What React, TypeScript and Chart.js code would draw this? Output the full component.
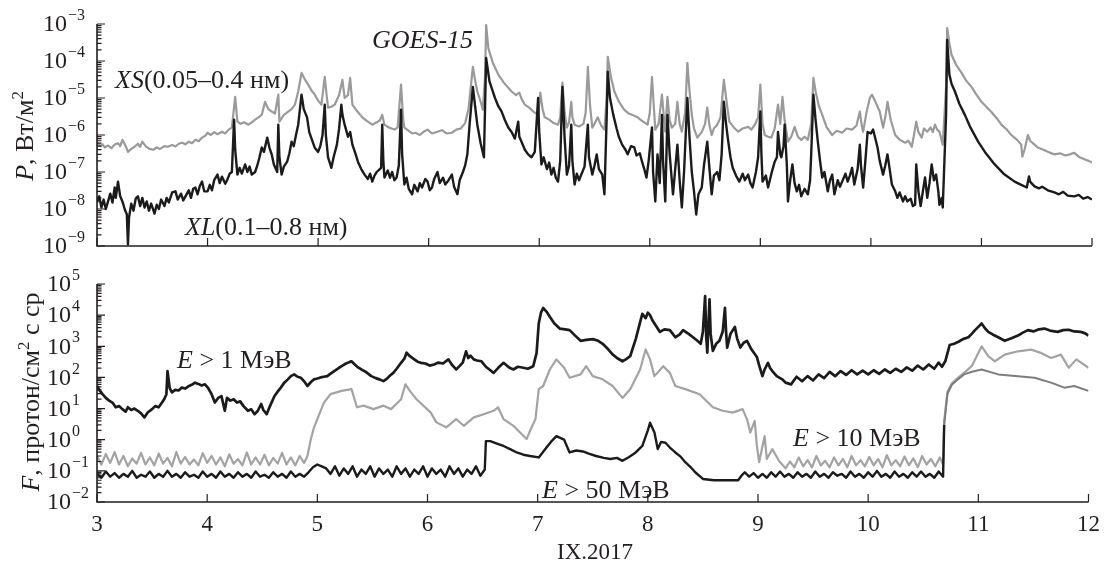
import React, { useEffect, useRef } from "react";
import { Chart, registerables } from "chart.js";

Chart.register(...registerables);

const SERIF = '"Liberation Serif", "Times New Roman", serif';
const INK = "#231f20";

// ---------- axis ticks ----------
const dayTicks = [3, 4, 5, 6, 7, 8, 9, 10, 11, 12];
const xrayExponents = [-9, -8, -7, -6, -5, -4, -3];
const protonExponents = [-2, -1, 0, 1, 2, 3, 4, 5];

// ---------- GOES-15 X-ray XS (0.05–0.4 nm): [day of Sept 2017, W/m^2] ----------
const xsSeries = [
  [3.00, 6.2e-7], [3.03, 5.0e-7], [3.05, 5.6e-7], [3.07, 4.6e-7], [3.10, 5.2e-7], [3.13, 4.4e-7],
  [3.16, 5.5e-7], [3.19, 6.0e-7], [3.21, 5.0e-7], [3.23, 7.4e-7], [3.26, 5.0e-7], [3.28, 3.5e-7],
  [3.31, 4.2e-7], [3.34, 4.8e-7], [3.37, 5.8e-7], [3.39, 4.8e-7], [3.41, 6.6e-7], [3.44, 5.0e-7],
  [3.47, 4.3e-7], [3.51, 4.0e-7], [3.54, 4.6e-7], [3.57, 4.2e-7], [3.61, 5.0e-7], [3.64, 4.8e-7],
  [3.68, 5.4e-7], [3.71, 4.9e-7], [3.74, 5.8e-7], [3.77, 6.2e-7], [3.80, 5.6e-7], [3.83, 6.6e-7],
  [3.86, 6.0e-7], [3.89, 7.4e-7], [3.92, 6.8e-7], [3.95, 8.5e-7], [3.98, 9.5e-7], [4.00, 1.15e-6],
  [4.03, 1.0e-6], [4.06, 1.2e-6], [4.09, 1.05e-6], [4.13, 1.23e-6], [4.16, 1.1e-6], [4.19, 1.4e-6],
  [4.22, 1.58e-6], [4.25, 1.07e-5], [4.27, 2.3e-6], [4.30, 2.0e-6], [4.33, 2.2e-6], [4.37, 1.9e-6],
  [4.40, 2.2e-6], [4.43, 2.6e-6], [4.46, 3.0e-6], [4.49, 3.5e-6], [4.52, 7.9e-6], [4.55, 5.0e-6],
  [4.58, 4.3e-6], [4.61, 3.8e-6], [4.64, 1.23e-5], [4.65, 2.3e-6], [4.69, 3.5e-6], [4.73, 4.3e-6],
  [4.76, 5.0e-6], [4.79, 6.6e-6], [4.82, 1.5e-5], [4.85, 4.8e-5], [4.88, 3.2e-5], [4.91, 2.3e-5],
  [4.94, 1.6e-5], [4.97, 1.23e-5], [5.00, 8.5e-6], [5.03, 6.6e-6], [5.06, 3.7e-5], [5.08, 1.0e-5],
  [5.09, 5.5e-6], [5.12, 5.8e-6], [5.15, 6.6e-6], [5.19, 1.2e-5], [5.22, 3.1e-5], [5.24, 1.0e-5],
  [5.27, 1.2e-5], [5.29, 3.5e-5], [5.31, 6.6e-6], [5.35, 4.5e-6], [5.40, 3.0e-6], [5.44, 2.4e-6],
  [5.49, 1.9e-6], [5.53, 2.2e-6], [5.56, 2.5e-6], [5.58, 3.5e-6], [5.60, 1.9e-6], [5.64, 1.6e-6],
  [5.69, 1.4e-6], [5.72, 1.6e-6], [5.75, 2.3e-5], [5.77, 2.5e-6], [5.78, 1.58e-6], [5.82, 1.3e-6],
  [5.85, 1.1e-6], [5.88, 1.15e-6], [5.92, 1.0e-6], [5.95, 1.2e-6], [5.99, 1.4e-6], [6.03, 1.1e-6],
  [6.08, 1.23e-6], [6.12, 1.35e-6], [6.16, 1.1e-6], [6.21, 1.15e-6], [6.25, 1.4e-6], [6.29, 1.5e-6],
  [6.33, 2.1e-6], [6.36, 5.0e-6], [6.40, 6.9e-5], [6.42, 3.0e-5], [6.44, 1.5e-5], [6.47, 8.0e-6],
  [6.49, 4.8e-6], [6.51, 4.0e-5], [6.52, 9.3e-4], [6.54, 2.2e-4], [6.58, 9.0e-5], [6.63, 4.3e-5],
  [6.68, 2.6e-5], [6.72, 1.9e-5], [6.75, 1.5e-5], [6.79, 1.2e-5], [6.82, 1.4e-5], [6.84, 9.5e-6],
  [6.87, 6.6e-6], [6.91, 5.5e-6], [6.95, 4.2e-6], [6.99, 3.5e-6], [7.01, 1.4e-5], [7.03, 5.0e-6],
  [7.05, 3.0e-6], [7.09, 2.6e-6], [7.13, 2.1e-6], [7.17, 1.9e-6], [7.19, 3.0e-6], [7.21, 2.6e-5],
  [7.23, 4.0e-6], [7.25, 1.58e-6], [7.27, 2.2e-6], [7.29, 7.9e-6], [7.30, 3.0e-6], [7.32, 1.9e-6],
  [7.36, 1.7e-6], [7.40, 2.0e-6], [7.42, 4.0e-6], [7.44, 6.9e-5], [7.46, 6.0e-6], [7.48, 1.58e-6],
  [7.50, 2.0e-6], [7.53, 3.0e-6], [7.56, 1.8e-6], [7.59, 1.4e-6], [7.61, 1.0e-5], [7.62, 1.3e-4],
  [7.65, 3.5e-5], [7.68, 1.5e-5], [7.72, 8.0e-6], [7.77, 4.8e-6], [7.81, 3.8e-6], [7.85, 3.4e-6],
  [7.89, 3.0e-6], [7.93, 2.4e-6], [7.98, 1.9e-6], [8.00, 4.0e-6], [8.02, 3.7e-5], [8.04, 4.0e-6],
  [8.05, 1.4e-6], [8.08, 2.0e-6], [8.11, 1.23e-5], [8.13, 2.5e-6], [8.14, 1.23e-6], [8.16, 1.07e-5],
  [8.18, 2.5e-6], [8.20, 1.58e-6], [8.23, 2.0e-6], [8.25, 7.9e-6], [8.27, 2.0e-6], [8.29, 1.23e-6],
  [8.32, 4.0e-6], [8.34, 8.9e-5], [8.36, 1.5e-5], [8.38, 3.5e-6], [8.40, 1.5e-6], [8.43, 8.5e-7],
  [8.47, 1.2e-6], [8.50, 2.0e-6], [8.52, 5.5e-6], [8.54, 1.8e-6], [8.56, 1.0e-6], [8.58, 1.5e-6],
  [8.61, 1.9e-6], [8.64, 3.0e-6], [8.67, 3.1e-5], [8.70, 6.0e-6], [8.72, 2.3e-6], [8.76, 1.6e-6],
  [8.80, 1.23e-6], [8.84, 1.5e-6], [8.89, 1.66e-6], [8.92, 1.4e-6], [8.95, 1.9e-6], [8.98, 3.0e-6],
  [9.00, 2.3e-5], [9.02, 2.0e-6], [9.04, 1.0e-6], [9.07, 9.0e-7], [9.10, 8.5e-7], [9.13, 1.5e-6],
  [9.16, 6.6e-6], [9.18, 2.0e-6], [9.20, 1.07e-5], [9.22, 2.5e-6], [9.25, 6.6e-7], [9.28, 9.0e-7],
  [9.31, 1.66e-6], [9.34, 9.0e-7], [9.37, 7.4e-7], [9.40, 9.0e-7], [9.43, 7.4e-7], [9.46, 2.0e-6],
  [9.48, 3.5e-5], [9.50, 1.5e-5], [9.53, 6.0e-6], [9.56, 3.5e-6], [9.60, 1.6e-6], [9.65, 1.0e-6],
  [9.69, 1.3e-6], [9.74, 1.15e-6], [9.78, 1.5e-6], [9.83, 1.4e-6], [9.87, 1.8e-6], [9.90, 4.3e-6],
  [9.92, 1.6e-6], [9.93, 1.23e-6], [9.96, 4.0e-6], [9.99, 1.0e-5], [10.01, 1.23e-5], [10.04, 8.0e-6],
  [10.08, 4.3e-6], [10.11, 1.58e-6], [10.13, 3.0e-6], [10.15, 7.9e-6], [10.18, 2.5e-6], [10.22, 1.0e-6],
  [10.26, 7.5e-7], [10.31, 6.2e-7], [10.34, 7.0e-7], [10.37, 4.8e-7], [10.39, 1.0e-6], [10.41, 2.3e-6],
  [10.43, 1.2e-6], [10.46, 8.5e-7], [10.48, 1.5e-6], [10.51, 1.23e-6], [10.54, 1.6e-6], [10.56, 1.2e-6],
  [10.58, 1.9e-6], [10.60, 1.4e-6], [10.62, 1.23e-6], [10.65, 5.5e-7], [10.68, 2.0e-5], [10.69, 7.8e-4],
  [10.71, 3.0e-4], [10.73, 1.45e-4], [10.77, 8.0e-5], [10.82, 4.8e-5], [10.86, 3.0e-5], [10.91, 2.0e-5],
  [10.95, 1.3e-5], [11.00, 7.9e-6], [11.05, 5.5e-6], [11.09, 4.2e-6], [11.14, 2.8e-6], [11.18, 1.9e-6],
  [11.23, 1.4e-6], [11.27, 1.0e-6], [11.32, 7.5e-7], [11.36, 5.5e-7], [11.37, 2.6e-7], [11.39, 4.0e-7],
  [11.42, 1.0e-6], [11.44, 7.0e-7], [11.48, 5.5e-7], [11.51, 4.6e-7], [11.56, 4.0e-7], [11.61, 3.4e-7],
  [11.66, 3.0e-7], [11.71, 3.2e-7], [11.76, 2.8e-7], [11.80, 3.0e-7], [11.84, 3.3e-7], [11.88, 2.6e-7],
  [11.93, 2.2e-7], [11.97, 2.0e-7], [12.00, 1.8e-7],
];

// ---------- GOES-15 X-ray XL (0.1–0.8 nm): [day, W/m^2] ----------
const xlSeries = [
  [3.00, 1.5e-8], [3.02, 2.2e-8], [3.04, 1.1e-8], [3.06, 1.8e-8], [3.08, 1.0e-8], [3.10, 1.6e-8],
  [3.12, 2.6e-8], [3.14, 1.5e-8], [3.16, 3.8e-8], [3.17, 2.0e-8], [3.19, 5.5e-8], [3.21, 2.2e-8],
  [3.23, 1.6e-8], [3.25, 1.0e-8], [3.27, 7.1e-9], [3.28, 1.1e-9], [3.29, 6.0e-9], [3.31, 1.4e-8],
  [3.33, 9.0e-9], [3.35, 1.9e-8], [3.37, 2.2e-8], [3.39, 1.2e-8], [3.41, 2.0e-8], [3.43, 1.1e-8],
  [3.45, 1.6e-8], [3.47, 9.0e-9], [3.49, 1.4e-8], [3.52, 7.5e-9], [3.54, 1.3e-8], [3.56, 1.0e-8],
  [3.58, 1.8e-8], [3.61, 1.2e-8], [3.63, 2.0e-8], [3.65, 1.5e-8], [3.68, 2.8e-8], [3.71, 3.0e-8],
  [3.73, 1.8e-8], [3.76, 2.6e-8], [3.78, 1.7e-8], [3.80, 2.2e-8], [3.83, 3.2e-8], [3.85, 2.0e-8],
  [3.87, 3.5e-8], [3.89, 3.8e-8], [3.91, 2.5e-8], [3.93, 4.2e-8], [3.95, 5.5e-8], [3.97, 3.0e-8],
  [4.00, 3.0e-8], [4.02, 4.5e-8], [4.04, 3.2e-8], [4.06, 6.0e-8], [4.09, 8.5e-8], [4.11, 5.0e-8],
  [4.13, 7.5e-8], [4.16, 4.8e-8], [4.18, 6.3e-8], [4.20, 9.0e-8], [4.22, 1.0e-7], [4.24, 2.6e-6],
  [4.25, 4.0e-7], [4.27, 8.5e-8], [4.29, 1.3e-7], [4.31, 9.0e-8], [4.34, 1.6e-7], [4.36, 1.0e-7],
  [4.38, 1.4e-7], [4.40, 8.5e-8], [4.43, 1.0e-7], [4.45, 1.5e-7], [4.47, 2.5e-7], [4.49, 4.6e-7],
  [4.51, 3.5e-7], [4.54, 8.5e-7], [4.56, 4.5e-7], [4.58, 3.0e-7], [4.60, 1.6e-7], [4.63, 1.0e-7],
  [4.64, 1.9e-6], [4.65, 2.5e-7], [4.67, 8.5e-8], [4.69, 1.4e-7], [4.72, 1.9e-7], [4.74, 3.2e-7],
  [4.76, 6.6e-7], [4.78, 5.0e-7], [4.80, 1.0e-6], [4.82, 1.9e-6], [4.85, 1.23e-5], [4.87, 5.0e-6],
  [4.90, 3.0e-6], [4.92, 1.2e-6], [4.95, 6.6e-7], [4.97, 4.5e-7], [5.00, 3.5e-7], [5.02, 5.0e-7],
  [5.04, 1.0e-6], [5.06, 6.6e-6], [5.07, 1.0e-6], [5.09, 2.5e-7], [5.12, 1.3e-7], [5.14, 2.5e-7],
  [5.17, 5.5e-7], [5.19, 1.5e-6], [5.21, 6.6e-6], [5.22, 3.5e-6], [5.24, 1.9e-6], [5.27, 9.0e-7],
  [5.29, 1.2e-6], [5.31, 5.5e-7], [5.34, 3.0e-7], [5.36, 1.9e-7], [5.39, 1.2e-7], [5.42, 8.5e-8],
  [5.45, 6.5e-8], [5.47, 9.0e-8], [5.49, 5.5e-8], [5.51, 8.0e-8], [5.53, 1.0e-7], [5.57, 1.3e-7],
  [5.58, 1.9e-6], [5.59, 2.0e-7], [5.60, 7.1e-8], [5.63, 1.1e-7], [5.65, 7.0e-8], [5.67, 1.0e-7],
  [5.69, 6.0e-8], [5.71, 7.1e-8], [5.73, 1.5e-7], [5.75, 4.8e-6], [5.76, 3.0e-7], [5.78, 4.6e-8],
  [5.80, 7.0e-8], [5.82, 3.5e-8], [5.85, 2.5e-8], [5.87, 4.5e-8], [5.90, 3.0e-8], [5.92, 5.0e-8],
  [5.94, 3.8e-8], [5.97, 6.5e-8], [5.99, 5.5e-8], [6.01, 3.2e-8], [6.03, 3.8e-8], [6.05, 6.5e-8],
  [6.08, 1.0e-7], [6.10, 5.0e-8], [6.13, 7.0e-8], [6.15, 4.6e-8], [6.18, 6.0e-8], [6.21, 8.5e-8],
  [6.23, 4.0e-8], [6.26, 2.5e-8], [6.28, 6.0e-8], [6.31, 1.0e-7], [6.33, 1.5e-7], [6.35, 3.0e-7],
  [6.37, 1.9e-6], [6.40, 2.0e-5], [6.42, 6.0e-6], [6.44, 1.9e-6], [6.47, 6.0e-7], [6.50, 2.5e-7],
  [6.52, 1.2e-4], [6.55, 2.8e-5], [6.58, 1.5e-5], [6.60, 1.0e-5], [6.63, 6.0e-6], [6.66, 4.3e-6],
  [6.69, 2.5e-6], [6.72, 1.6e-6], [6.75, 1.2e-6], [6.78, 8.0e-7], [6.81, 2.3e-6], [6.82, 9.0e-7],
  [6.84, 6.6e-7], [6.87, 4.0e-7], [6.90, 3.0e-7], [6.93, 2.5e-7], [6.96, 3.5e-7], [6.99, 1.0e-5],
  [7.00, 1.2e-6], [7.02, 1.6e-7], [7.04, 2.5e-7], [7.07, 1.2e-7], [7.09, 1.8e-7], [7.11, 8.5e-8],
  [7.13, 1.3e-7], [7.15, 7.0e-8], [7.17, 5.5e-8], [7.19, 2.0e-7], [7.21, 2.0e-5], [7.23, 8.0e-7],
  [7.25, 8.5e-8], [7.27, 1.5e-7], [7.29, 1.9e-6], [7.30, 2.0e-7], [7.32, 4.6e-8], [7.34, 9.0e-8],
  [7.36, 6.0e-8], [7.39, 1.0e-7], [7.41, 1.4e-7], [7.44, 1.9e-6], [7.45, 2.5e-7], [7.48, 8.5e-8],
  [7.50, 1.5e-7], [7.52, 3.0e-7], [7.54, 1.2e-7], [7.57, 8.5e-8], [7.59, 2.5e-8], [7.61, 3.0e-6],
  [7.62, 5.1e-5], [7.64, 1.0e-5], [7.67, 3.5e-6], [7.70, 1.5e-6], [7.72, 9.0e-7], [7.75, 5.5e-7],
  [7.78, 4.0e-7], [7.80, 3.0e-7], [7.83, 5.0e-7], [7.86, 4.6e-7], [7.88, 2.8e-7], [7.91, 3.2e-7],
  [7.93, 1.9e-7], [7.95, 1.2e-7], [7.97, 7.1e-8], [7.99, 2.0e-7], [8.02, 1.6e-6], [8.03, 1.0e-7],
  [8.05, 1.6e-8], [8.07, 3.0e-7], [8.09, 5.0e-8], [8.11, 3.5e-6], [8.12, 2.0e-7], [8.14, 1.6e-8],
  [8.16, 3.5e-6], [8.18, 3.0e-7], [8.21, 2.5e-8], [8.23, 1.2e-7], [8.25, 5.5e-7], [8.27, 6.0e-8],
  [8.29, 1.1e-8], [8.31, 1.0e-7], [8.34, 1.0e-5], [8.36, 8.0e-7], [8.38, 1.0e-7], [8.40, 3.0e-8],
  [8.42, 7.1e-9], [8.44, 2.5e-8], [8.47, 3.8e-8], [8.49, 1.5e-7], [8.52, 6.6e-7], [8.54, 1.2e-7],
  [8.56, 2.5e-8], [8.58, 8.0e-8], [8.61, 1.0e-7], [8.63, 6.0e-8], [8.65, 3.0e-7], [8.67, 7.9e-6],
  [8.69, 2.0e-6], [8.71, 6.6e-7], [8.73, 2.5e-7], [8.75, 1.3e-7], [8.78, 8.0e-8], [8.81, 5.5e-8],
  [8.84, 9.0e-8], [8.86, 6.0e-8], [8.89, 8.5e-8], [8.91, 5.0e-8], [8.93, 3.8e-8], [8.96, 1.0e-7],
  [8.98, 2.5e-7], [9.00, 4.3e-6], [9.01, 3.0e-7], [9.02, 5.5e-8], [9.05, 8.0e-8], [9.07, 3.8e-8],
  [9.10, 9.0e-8], [9.13, 1.9e-7], [9.15, 2.5e-7], [9.16, 1.2e-6], [9.18, 3.0e-7], [9.19, 2.5e-7],
  [9.21, 5.0e-7], [9.22, 1.9e-6], [9.24, 1.5e-7], [9.25, 1.6e-8], [9.27, 6.0e-8], [9.29, 1.6e-7],
  [9.31, 5.0e-8], [9.33, 3.0e-8], [9.35, 4.5e-8], [9.37, 2.2e-8], [9.40, 3.5e-8], [9.43, 2.5e-8],
  [9.45, 6.0e-8], [9.46, 3.0e-7], [9.48, 1.23e-5], [9.50, 2.5e-6], [9.52, 6.6e-7], [9.54, 2.0e-7],
  [9.56, 7.1e-8], [9.58, 1.0e-7], [9.61, 3.0e-8], [9.63, 6.0e-8], [9.65, 8.5e-8], [9.67, 2.5e-8],
  [9.70, 6.0e-8], [9.72, 4.0e-8], [9.74, 5.5e-8], [9.77, 9.0e-8], [9.79, 5.5e-8], [9.81, 8.0e-8],
  [9.83, 1.3e-7], [9.85, 4.6e-8], [9.88, 1.2e-7], [9.90, 5.5e-7], [9.91, 1.5e-7], [9.93, 3.8e-8],
  [9.95, 2.0e-7], [9.97, 1.2e-6], [10.00, 1.1e-6], [10.02, 1.4e-6], [10.04, 8.0e-7], [10.06, 4.6e-7],
  [10.08, 2.0e-7], [10.11, 8.5e-8], [10.13, 1.5e-7], [10.15, 3.0e-7], [10.17, 1.2e-7], [10.19, 4.6e-8],
  [10.22, 3.0e-8], [10.24, 2.0e-8], [10.26, 2.8e-8], [10.29, 1.6e-8], [10.31, 2.2e-8], [10.33, 1.6e-8],
  [10.36, 1.9e-8], [10.38, 1.2e-8], [10.40, 1.3e-8], [10.41, 1.6e-7], [10.43, 3.0e-8], [10.45, 1.2e-8],
  [10.47, 3.0e-8], [10.49, 7.1e-8], [10.51, 2.0e-8], [10.53, 5.0e-8], [10.55, 1.6e-7], [10.57, 6.0e-8],
  [10.59, 8.5e-8], [10.61, 3.0e-8], [10.62, 1.3e-8], [10.64, 2.0e-8], [10.65, 1.1e-8], [10.68, 3.5e-6],
  [10.69, 3.7e-4], [10.71, 4.3e-5], [10.73, 2.4e-5], [10.76, 1.5e-5], [10.80, 7.0e-6], [10.85, 3.5e-6],
  [10.90, 1.6e-6], [10.97, 6.6e-7], [11.04, 3.2e-7], [11.12, 1.6e-7], [11.20, 9.0e-8], [11.30, 5.5e-8],
  [11.36, 4.5e-8], [11.41, 3.8e-8], [11.43, 7.6e-8], [11.44, 5.5e-8], [11.48, 4.1e-8], [11.52, 3.6e-8],
  [11.55, 4.0e-8], [11.60, 3.2e-8], [11.66, 2.8e-8], [11.70, 2.5e-8], [11.74, 2.9e-8], [11.78, 2.3e-8],
  [11.84, 2.2e-8], [11.88, 2.4e-8], [11.92, 1.9e-8], [11.96, 2.1e-8], [12.00, 1.8e-8],
];

// ---------- protons E > 1 MeV: [day, protons/(cm^2 s sr)] ----------
const p1Series = [
  [3.00, 53], [3.02, 40], [3.05, 29], [3.08, 22], [3.11, 18], [3.14, 15.6], [3.17, 11], [3.20, 12],
  [3.23, 9.6], [3.26, 8.0], [3.28, 11], [3.31, 9.0], [3.34, 10], [3.37, 8.5], [3.40, 7.0], [3.43, 5.2],
  [3.46, 7.5], [3.50, 9.6], [3.53, 12], [3.56, 11], [3.59, 15.6], [3.61, 20], [3.63, 29], [3.64, 160],
  [3.66, 45], [3.68, 33], [3.71, 40], [3.74, 38], [3.77, 47], [3.80, 44], [3.83, 52], [3.86, 58],
  [3.89, 68], [3.92, 62], [3.95, 55], [3.98, 60], [4.01, 45], [4.04, 29], [4.07, 15.6], [4.10, 22],
  [4.13, 25], [4.16, 8.5], [4.18, 22], [4.21, 18], [4.24, 20], [4.27, 15.6], [4.30, 17], [4.33, 12],
  [4.37, 8.5], [4.40, 9.5], [4.43, 6.6], [4.46, 8.5], [4.49, 14], [4.51, 9.0], [4.54, 6.6], [4.57, 12],
  [4.61, 25], [4.64, 35], [4.67, 48], [4.70, 68], [4.73, 85], [4.76, 110], [4.79, 125], [4.82, 105],
  [4.85, 98], [4.88, 75], [4.91, 53], [4.94, 70], [4.97, 87], [5.00, 92], [5.03, 100], [5.06, 105],
  [5.09, 110], [5.13, 140], [5.17, 175], [5.22, 230], [5.26, 280], [5.29, 310], [5.31, 330], [5.34, 260],
  [5.37, 210], [5.40, 180], [5.44, 150], [5.49, 110], [5.53, 95], [5.57, 85], [5.60, 76], [5.63, 90],
  [5.66, 115], [5.69, 140], [5.72, 190], [5.76, 295], [5.79, 400], [5.81, 620], [5.84, 480], [5.88, 380],
  [5.91, 320], [5.94, 295], [5.98, 280], [6.02, 240], [6.06, 260], [6.10, 300], [6.14, 280], [6.19, 380],
  [6.22, 260], [6.26, 180], [6.29, 230], [6.32, 300], [6.35, 690], [6.37, 420], [6.39, 500], [6.42, 380],
  [6.45, 350], [6.49, 330], [6.53, 220], [6.57, 170], [6.60, 140], [6.64, 200], [6.69, 295], [6.72, 240],
  [6.75, 200], [6.78, 180], [6.82, 220], [6.87, 205], [6.91, 190], [6.96, 230], [6.99, 600], [7.01, 5500],
  [7.03, 12000], [7.05, 17000], [7.08, 13000], [7.11, 8900], [7.15, 5500], [7.20, 3700], [7.25, 3500], [7.29, 3300],
  [7.34, 2200], [7.39, 1500], [7.44, 1600], [7.50, 1700], [7.55, 1500], [7.59, 1200], [7.64, 800], [7.68, 550],
  [7.72, 420], [7.77, 330], [7.80, 380], [7.84, 480], [7.89, 1700], [7.93, 6000], [7.95, 11000], [7.98, 8000],
  [8.00, 12000], [8.02, 10000], [8.04, 7000], [8.06, 5400], [8.11, 2900], [8.15, 3500], [8.20, 3300], [8.25, 1950],
  [8.29, 2400], [8.32, 3300], [8.37, 2500], [8.41, 1950], [8.45, 1500], [8.48, 1200], [8.50, 3000], [8.52, 41000],
  [8.53, 2000], [8.54, 630], [8.55, 5000], [8.56, 32000], [8.57, 2500], [8.59, 710], [8.62, 1200], [8.65, 1500],
  [8.68, 3000], [8.70, 17000], [8.71, 3000], [8.72, 910], [8.75, 2500], [8.79, 4200], [8.81, 1800], [8.84, 910],
  [8.87, 1300], [8.90, 1500], [8.94, 800], [8.99, 450], [9.01, 250], [9.04, 110], [9.06, 180], [9.09, 295],
  [9.11, 200], [9.13, 160], [9.17, 110], [9.22, 87], [9.25, 68], [9.30, 60], [9.35, 105], [9.40, 75],
  [9.45, 110], [9.50, 80], [9.55, 125], [9.60, 95], [9.65, 150], [9.70, 110], [9.75, 160], [9.80, 120],
  [9.85, 170], [9.90, 125], [9.95, 165], [10.00, 125], [10.05, 170], [10.10, 130], [10.15, 180], [10.20, 140],
  [10.25, 190], [10.30, 150], [10.35, 210], [10.40, 165], [10.45, 240], [10.50, 180], [10.55, 260], [10.60, 190],
  [10.64, 300], [10.67, 220], [10.70, 330], [10.72, 600], [10.74, 1100], [10.78, 1200], [10.82, 1400], [10.86, 1700],
  [10.91, 1950], [10.94, 2500], [10.97, 3300], [11.00, 4200], [11.03, 5400], [11.06, 3800], [11.09, 2900], [11.13, 2400],
  [11.18, 1950], [11.24, 1500], [11.30, 1800], [11.36, 2200], [11.40, 2700], [11.45, 3300], [11.50, 3000], [11.55, 3500],
  [11.60, 3700], [11.65, 3200], [11.72, 2900], [11.77, 3300], [11.82, 3400], [11.87, 3000], [11.93, 2900], [11.97, 2600],
  [12.00, 2200],
];

// ---------- protons E > 10 MeV: [day, flux] ----------
const p10Series = [
  [3.00, 0.3], [3.04, 0.16], [3.08, 0.35], [3.12, 0.18], [3.16, 0.4], [3.20, 0.16], [3.24, 0.3], [3.28, 0.14],
  [3.32, 0.25], [3.36, 0.17], [3.40, 0.38], [3.44, 0.16], [3.48, 0.27], [3.52, 0.15], [3.56, 0.36], [3.60, 0.17],
  [3.64, 0.26], [3.68, 0.14], [3.72, 0.4], [3.76, 0.17], [3.80, 0.28], [3.84, 0.16], [3.88, 0.23], [3.92, 0.15],
  [3.96, 0.37], [4.00, 0.18], [4.04, 0.3], [4.08, 0.16], [4.12, 0.27], [4.16, 0.14], [4.20, 0.34], [4.24, 0.17],
  [4.28, 0.24], [4.32, 0.15], [4.36, 0.39], [4.40, 0.16], [4.44, 0.27], [4.48, 0.16], [4.52, 0.33], [4.56, 0.15],
  [4.60, 0.26], [4.64, 0.17], [4.68, 0.38], [4.72, 0.16], [4.76, 0.27], [4.80, 0.15], [4.84, 0.3], [4.88, 0.18],
  [4.91, 0.3], [4.94, 1.0], [4.97, 2.5], [5.00, 4.6], [5.06, 15.6], [5.12, 29], [5.22, 37], [5.31, 42],
  [5.36, 11], [5.42, 12.4], [5.51, 9.6], [5.60, 12.4], [5.67, 9.6], [5.76, 20], [5.80, 60], [5.85, 33],
  [5.90, 20], [6.03, 7.4], [6.08, 3.6], [6.17, 2.5], [6.26, 4.6], [6.33, 2.8], [6.42, 5.2], [6.51, 6.6],
  [6.60, 8.5], [6.64, 11], [6.69, 4.6], [6.78, 2.8], [6.84, 1.7], [6.90, 1.05], [6.93, 1.9], [6.98, 4.6],
  [7.01, 42], [7.05, 53], [7.11, 180], [7.17, 380], [7.24, 205], [7.29, 98], [7.39, 125], [7.44, 230],
  [7.50, 110], [7.59, 87], [7.68, 53], [7.77, 22], [7.84, 42], [7.93, 180], [7.98, 790], [8.02, 380],
  [8.06, 110], [8.14, 230], [8.20, 140], [8.25, 53], [8.34, 42], [8.47, 29], [8.59, 11], [8.68, 8.5],
  [8.77, 7.4], [8.86, 9.6], [8.90, 4.6], [8.93, 1.7], [8.97, 4.0], [8.99, 0.63], [9.01, 0.19], [9.06, 1.3],
  [9.08, 0.24], [9.13, 0.5], [9.19, 0.21], [9.25, 0.12], [9.29, 0.2], [9.33, 0.13], [9.37, 0.27], [9.41, 0.14],
  [9.45, 0.22], [9.49, 0.13], [9.53, 0.3], [9.57, 0.15], [9.61, 0.21], [9.65, 0.13], [9.69, 0.27], [9.73, 0.15],
  [9.77, 0.24], [9.81, 0.13], [9.85, 0.3], [9.89, 0.15], [9.93, 0.22], [9.97, 0.14], [10.01, 0.28], [10.05, 0.15],
  [10.09, 0.24], [10.13, 0.13], [10.17, 0.32], [10.21, 0.15], [10.25, 0.22], [10.29, 0.14], [10.33, 0.29], [10.37, 0.15],
  [10.41, 0.25], [10.45, 0.13], [10.49, 0.3], [10.53, 0.16], [10.57, 0.24], [10.61, 0.14], [10.65, 0.27], [10.68, 0.16],
  [10.69, 4.0], [10.72, 35], [10.76, 65], [10.82, 100], [10.87, 140], [10.94, 230], [11.03, 1000], [11.09, 480],
  [11.15, 330], [11.24, 540], [11.36, 690], [11.48, 780], [11.57, 610], [11.66, 420], [11.75, 540], [11.82, 205],
  [11.89, 380], [12.00, 205],
];

// ---------- protons E > 50 MeV: [day, flux] ----------
const p50Series = [
  [3.00, 0.08], [3.04, 0.06], [3.08, 0.095], [3.12, 0.065], [3.16, 0.085], [3.20, 0.06], [3.24, 0.08], [3.28, 0.065],
  [3.32, 0.1], [3.36, 0.06], [3.40, 0.075], [3.44, 0.065], [3.48, 0.095], [3.52, 0.06], [3.56, 0.08], [3.60, 0.065],
  [3.64, 0.1], [3.68, 0.065], [3.72, 0.08], [3.76, 0.06], [3.80, 0.09], [3.84, 0.065], [3.88, 0.075], [3.92, 0.06],
  [3.96, 0.095], [4.00, 0.065], [4.04, 0.08], [4.08, 0.06], [4.12, 0.095], [4.16, 0.065], [4.20, 0.08], [4.24, 0.06],
  [4.28, 0.09], [4.32, 0.065], [4.36, 0.08], [4.40, 0.06], [4.44, 0.095], [4.48, 0.065], [4.52, 0.075], [4.56, 0.06],
  [4.60, 0.09], [4.64, 0.065], [4.68, 0.08], [4.72, 0.06], [4.76, 0.095], [4.80, 0.065], [4.84, 0.08], [4.88, 0.065],
  [4.92, 0.09], [4.96, 0.13], [5.00, 0.16], [5.04, 0.14], [5.08, 0.12], [5.12, 0.08], [5.16, 0.14], [5.20, 0.07],
  [5.24, 0.12], [5.28, 0.08], [5.32, 0.14], [5.36, 0.065], [5.40, 0.11], [5.44, 0.08], [5.48, 0.14], [5.52, 0.065],
  [5.56, 0.12], [5.60, 0.08], [5.64, 0.11], [5.68, 0.065], [5.72, 0.14], [5.76, 0.08], [5.80, 0.12], [5.84, 0.065],
  [5.88, 0.11], [5.92, 0.08], [5.96, 0.14], [6.00, 0.065], [6.04, 0.12], [6.08, 0.08], [6.12, 0.11], [6.16, 0.065],
  [6.20, 0.14], [6.24, 0.08], [6.28, 0.12], [6.32, 0.065], [6.36, 0.11], [6.40, 0.08], [6.44, 0.14], [6.48, 0.07],
  [6.52, 0.11], [6.53, 0.9], [6.57, 0.9], [6.63, 0.75], [6.69, 0.63], [6.75, 0.5], [6.81, 0.39], [6.87, 0.33],
  [6.93, 0.3], [7.01, 0.27], [7.08, 0.56], [7.12, 0.85], [7.17, 1.3], [7.24, 1.0], [7.29, 0.39], [7.35, 0.45],
  [7.41, 0.42], [7.47, 0.35], [7.53, 0.3], [7.60, 0.26], [7.66, 0.24], [7.72, 0.26], [7.77, 0.21], [7.83, 0.28],
  [7.89, 0.39], [7.95, 0.63], [8.00, 2.0], [8.02, 3.5], [8.06, 1.7], [8.09, 0.5], [8.12, 0.85], [8.16, 0.8],
  [8.20, 0.56], [8.25, 0.39], [8.30, 0.28], [8.34, 0.19], [8.39, 0.13], [8.43, 0.09], [8.50, 0.055], [8.60, 0.05],
  [8.70, 0.05], [8.82, 0.05], [8.85, 0.07], [8.88, 0.09], [8.92, 0.065], [8.96, 0.085], [9.00, 0.06], [9.04, 0.08],
  [9.08, 0.06], [9.12, 0.09], [9.16, 0.065], [9.20, 0.095], [9.24, 0.065], [9.28, 0.08], [9.32, 0.06], [9.36, 0.09],
  [9.40, 0.065], [9.44, 0.08], [9.48, 0.06], [9.52, 0.095], [9.56, 0.065], [9.60, 0.08], [9.64, 0.06], [9.68, 0.09],
  [9.72, 0.07], [9.76, 0.08], [9.80, 0.06], [9.84, 0.095], [9.88, 0.065], [9.92, 0.08], [9.96, 0.06], [10.00, 0.09],
  [10.04, 0.065], [10.08, 0.1], [10.12, 0.065], [10.16, 0.08], [10.20, 0.06], [10.24, 0.095], [10.28, 0.065], [10.32, 0.08],
  [10.36, 0.06], [10.40, 0.09], [10.44, 0.065], [10.48, 0.095], [10.52, 0.065], [10.56, 0.08], [10.60, 0.06], [10.64, 0.095],
  [10.68, 0.065], [10.69, 3.0], [10.72, 30], [10.76, 58], [10.82, 90], [10.87, 125], [10.95, 155], [11.03, 180],
  [11.18, 125], [11.36, 110], [11.51, 98], [11.66, 68], [11.78, 47], [11.87, 53], [12.00, 37],
];

const pts = (series: number[][]) => series.map(([d, v]) => ({ x: d, y: v }));

// Draws inward ticks, axis lines and 10^n labels using the chart's own scales
const logAxesPlugin = {
  id: "logAxes",
  afterDatasetsDraw(chart: any, _args: any, opts: any) {
    const { ctx, chartArea: ca, scales } = chart;
    const xs = scales.x;
    const ys = scales.y;
    const exps: number[] = opts.exponents;
    ctx.save();
    ctx.strokeStyle = INK;
    ctx.fillStyle = INK;
    ctx.lineWidth = 1.6;
    ctx.beginPath();
    ctx.moveTo(ca.left, ca.top);
    ctx.lineTo(ca.left, ca.bottom);
    ctx.lineTo(ca.right, ca.bottom);
    ctx.stroke();

    ctx.lineWidth = 1.2;
    ctx.beginPath();
    exps.forEach((e, i) => {
      const base = Math.pow(10, e);
      const py = ys.getPixelForValue(base);
      ctx.moveTo(ca.left, py);
      ctx.lineTo(ca.left + 8, py);
      if (i < exps.length - 1) {
        for (let m = 2; m <= 9; m++) {
          const pm = ys.getPixelForValue(m * base);
          ctx.moveTo(ca.left, pm);
          ctx.lineTo(ca.left + 4.5, pm);
        }
      }
    });
    (opts.days as number[]).forEach((d) => {
      const px = xs.getPixelForValue(d);
      ctx.moveTo(px, ca.bottom);
      ctx.lineTo(px, ca.bottom - 8);
    });
    ctx.stroke();

    ctx.textBaseline = "middle";
    ctx.textAlign = "left";
    exps.forEach((e) => {
      const py = ys.getPixelForValue(Math.pow(10, e));
      ctx.font = `24px ${SERIF}`;
      ctx.fillText("10", opts.labelX, py + 1);
      const w = ctx.measureText("10").width;
      ctx.font = `16px ${SERIF}`;
      ctx.fillText(e < 0 ? "\u2212" + -e : String(e), opts.labelX + w + 1, py - 8);
    });
    ctx.restore();
  },
};

const Sup = ({ children }: { children: React.ReactNode }) => (
  <span style={{ fontSize: "0.65em", position: "relative", top: "-0.6em" }}>{children}</span>
);

const Note = ({ x, y, size = 26, children }: { x: number; y: number; size?: number; children: React.ReactNode }) => (
  <div
    style={{
      position: "absolute",
      left: x,
      top: y,
      fontSize: size,
      lineHeight: 1,
      whiteSpace: "nowrap",
      transform: "translateY(-50%)",
    }}
  >
    {children}
  </div>
);

const VTitle = ({ cx, cy, children }: { cx: number; cy: number; children: React.ReactNode }) => (
  <div
    style={{
      position: "absolute",
      left: cx,
      top: cy,
      fontSize: 26,
      lineHeight: 1,
      whiteSpace: "nowrap",
      transform: "translate(-50%, -50%) rotate(-90deg)",
    }}
  >
    {children}
  </div>
);

export default function App() {
  const topRef = useRef<HTMLCanvasElement>(null);
  const botRef = useRef<HTMLCanvasElement>(null);

  useEffect(() => {
    const hiddenGrid = { display: false, drawTicks: false };
    const top = new Chart(topRef.current as HTMLCanvasElement, {
      type: "line",
      data: {
        datasets: [
          {
            label: "XL (0.1–0.8 нм)",
            data: pts(xlSeries),
            borderColor: "#1b1b1b",
            borderWidth: 2.4,
            order: 0,
          },
          {
            label: "XS (0.05–0.4 нм)",
            data: pts(xsSeries),
            borderColor: "#9a9a9a",
            borderWidth: 2.2,
            order: 1,
          },
        ],
      },
      options: {
        responsive: false,
        animation: false,
        devicePixelRatio: 1,
        layout: { padding: { top: 24, right: 17, left: 0, bottom: 0 } },
        elements: { point: { radius: 0 }, line: { tension: 0, borderJoinStyle: "round" } },
        plugins: {
          legend: { display: false },
          tooltip: { enabled: false },
          logAxes: { exponents: xrayExponents, days: dayTicks, labelX: 43 },
        } as any,
        scales: {
          x: {
            type: "linear",
            min: 3,
            max: 12,
            ticks: { display: false },
            grid: hiddenGrid,
            border: { display: false },
            afterFit: (s: any) => {
              s.height = 14;
            },
          },
          y: {
            type: "logarithmic",
            min: 1e-9,
            max: 1e-3,
            ticks: { display: false },
            grid: hiddenGrid,
            border: { display: false },
            afterFit: (s: any) => {
              s.width = 97;
            },
          },
        },
      },
      plugins: [logAxesPlugin],
    });

    const bot = new Chart(botRef.current as HTMLCanvasElement, {
      type: "line",
      data: {
        datasets: [
          {
            label: "E > 1 МэВ",
            data: pts(p1Series),
            borderColor: "#1b1b1b",
            borderWidth: 2.7,
            order: 0,
          },
          {
            label: "E > 50 МэВ",
            data: pts(p50Series),
            borderColor: "#1b1b1b",
            borderWidth: 2.4,
            order: 1,
            segment: {
              borderColor: (c: any) => (c.p0.parsed.x >= 10.685 ? "#7d7d7d" : "#1b1b1b"),
              borderWidth: (c: any) => (c.p0.parsed.x >= 10.685 ? 2 : 2.4),
            },
          },
          {
            label: "E > 10 МэВ",
            data: pts(p10Series),
            borderColor: "#a3a3a3",
            borderWidth: 2.2,
            order: 2,
          },
        ],
      },
      options: {
        responsive: false,
        animation: false,
        devicePixelRatio: 1,
        layout: { padding: { top: 24, right: 17, left: 0, bottom: 0 } },
        elements: { point: { radius: 0 }, line: { tension: 0, borderJoinStyle: "round" } },
        plugins: {
          legend: { display: false },
          tooltip: { enabled: false },
          logAxes: { exponents: protonExponents, days: dayTicks, labelX: 47 },
        } as any,
        scales: {
          x: {
            type: "linear",
            min: 3,
            max: 12,
            afterBuildTicks: (s: any) => {
              s.ticks = dayTicks.map((v) => ({ value: v }));
            },
            ticks: {
              autoSkip: false,
              maxRotation: 0,
              padding: 9,
              color: INK,
              font: { family: SERIF, size: 23 },
              callback: (v: any) => String(v),
            },
            grid: hiddenGrid,
            border: { display: false },
            afterFit: (s: any) => {
              s.height = 64;
            },
          },
          y: {
            type: "logarithmic",
            min: 1e-2,
            max: 1e5,
            ticks: { display: false },
            grid: hiddenGrid,
            border: { display: false },
            afterFit: (s: any) => {
              s.width = 97;
            },
          },
        },
      },
      plugins: [logAxesPlugin],
    });

    return () => {
      top.destroy();
      bot.destroy();
    };
  }, []);

  return (
    <div
      style={{
        position: "absolute",
        left: 0,
        top: 0,
        width: 1109,
        height: 566,
        background: "#fff",
        color: INK,
        fontFamily: SERIF,
        overflow: "hidden",
      }}
    >
      <canvas ref={topRef} width={1109} height={260} style={{ position: "absolute", left: 0, top: 0 }} />
      <canvas ref={botRef} width={1109} height={306} style={{ position: "absolute", left: 0, top: 260 }} />

      <VTitle cx={25} cy={136}>
        <i>P</i>, Вт/м<Sup>2</Sup>
      </VTitle>
      <VTitle cx={31} cy={392}>
        <i>F</i>, протон/см<Sup>2</Sup> с ср
      </VTitle>

      <Note x={372} y={40}>
        <i>GOES-15</i>
      </Note>
      <Note x={115} y={80}>
        <i>XS</i>(0.05–0.4 нм)
      </Note>
      <Note x={185} y={227}>
        <i>XL</i>(0.1–0.8 нм)
      </Note>
      <Note x={177} y={360}>
        <i>E</i> &gt; 1 МэВ
      </Note>
      <Note x={793} y={438}>
        <i>E</i> &gt; 10 МэВ
      </Note>
      <Note x={542} y={490}>
        <i>E</i> &gt; 50 МэВ
      </Note>
      <div
        style={{
          position: "absolute",
          left: 595,
          top: 551,
          fontSize: 23,
          lineHeight: 1,
          whiteSpace: "nowrap",
          transform: "translate(-50%, -50%)",
        }}
      >
        IX.2017
      </div>
    </div>
  );
}
